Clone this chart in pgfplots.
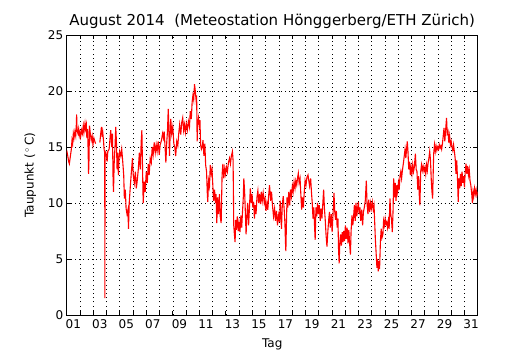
\documentclass[border=0pt]{standalone}
\usepackage{pgfplots}
\pgfplotsset{compat=1.18}
\usepackage{fontspec}
\setmainfont{DejaVu Sans}
\begin{document}
\begin{tikzpicture}
\path[use as bounding box] (-66.7pt,-35pt) rectangle (463.3pt,315pt);
\begin{axis}[
  scale only axis, width=411pt, height=280pt,
  xmin=1, xmax=32, ymin=0, ymax=25,
  font=\fontsize{12}{14}\selectfont,
  /pgf/number format/assume math mode=true,
  axis line style={line width=0.9pt},
  tick align=inside,
  xtick={1.5,3.5,...,31.5},
  xticklabels={01,03,05,07,09,11,13,15,17,19,21,23,25,27,29,31},
  major x tick style={draw=none},
  minor xtick={2,3,...,31},
  minor tick length=4.4pt, major tick length=4.4pt,
  ytick={0,5,...,25},
  xminorgrids=true, ymajorgrids=true,
  grid style={black, line width=0.5pt, dash pattern=on 1pt off 3.2pt},
  minor grid style={black, line width=0.5pt, dash pattern=on 1pt off 3.2pt},
  tick style={black, line width=0.6pt},
  xticklabel style={yshift=-1pt},
  xlabel={Tag}, ylabel={Taupunkt (\,$^\circ$\,C)},
  xlabel style={yshift=-3pt},
  ylabel style={yshift=5pt},
  title={August 2014\ \ (Meteostation Hönggerberg/ETH Zürich)},
  title style={font=\fontsize{15}{17}\selectfont, yshift=-3pt},
  unbounded coords=jump,
]
\addplot[red, line width=1.1pt] coordinates {
(1.00,14.7) (1.08,14.2) (1.15,13.7) (1.20,13.5) (1.28,14.2) (1.35,14.8) (1.40,15.6) (1.45,15.3) (1.50,16.2) (1.55,15.8)
(1.62,16.4) (1.68,16.0) (1.72,16.8) (1.75,17.9) (1.78,16.5) (1.85,16.2) (1.90,16.6) (1.95,16.0) (2.00,16.3)
(2.05,15.9) (2.12,16.5) (2.18,16.2) (2.25,16.9) (2.30,16.3) (2.38,17.1) (2.42,16.6) (2.48,17.0) (2.52,15.8) (2.58,16.6)
(2.62,14.5) (2.65,12.6) (2.68,13.8) (2.72,16.9) (2.78,16.2) (2.85,15.6) (2.92,16.0) (2.98,15.2) (3.05,15.8) (3.12,15.5) (3.18,15.3)
(3.30,nan)
(3.50,15.4) (3.55,16.0) (3.62,16.8) (3.68,15.9) (3.72,16.3) (3.78,15.5) (3.82,14.8) (3.87,14.5) (3.88,1.5) (3.89,14.2)
(3.95,14.5) (4.00,14.2) (4.05,13.7) (4.10,14.6) (4.20,14.8) (4.32,16.5) (4.40,15.0) (4.45,16.2) (4.50,12.0) (4.53,11.0)
(4.58,13.5) (4.65,15.2) (4.70,16.8) (4.75,15.5) (4.80,13.0) (4.85,14.5) (4.90,12.5) (4.95,14.0) (5.00,14.6)
(5.08,14.2) (5.15,14.8) (5.22,13.8) (5.30,12.5) (5.35,10.4) (5.42,11.2) (5.48,9.5) (5.55,9.0) (5.62,9.4) (5.66,7.7)
(5.72,10.1) (5.80,11.5) (5.88,12.8) (5.96,14.0) (6.02,12.5) (6.10,11.8) (6.18,12.8) (6.25,11.3) (6.32,12.0)
(6.40,13.0) (6.48,14.5) (6.55,13.0) (6.62,15.5) (6.67,16.5) (6.72,13.0) (6.77,10.0) (6.85,11.9) (6.92,11.0) (7.00,12.8)
(7.08,11.8) (7.15,13.5) (7.22,12.5) (7.30,14.0) (7.38,13.6) (7.45,15.0) (7.52,14.3) (7.60,15.4) (7.68,14.5) (7.75,15.2)
(7.82,14.6) (7.90,15.5) (7.98,14.3) (8.05,15.2) (8.15,15.6) (8.23,16.2) (8.30,15.8) (8.35,16.4) (8.42,15.0) (8.48,13.6)
(8.55,15.5) (8.60,16.4) (8.66,18.4) (8.70,17.0) (8.75,14.2) (8.80,16.0) (8.85,17.5) (8.92,16.2) (9.00,16.8)
(9.08,15.3) (9.15,15.0) (9.22,14.2) (9.30,15.5) (9.38,15.1) (9.45,16.2) (9.52,17.0) (9.60,16.1) (9.68,17.2) (9.75,17.6)
(9.82,16.5) (9.88,17.0) (9.95,16.3) (10.02,17.1) (10.10,16.5) (10.18,17.3) (10.26,16.8) (10.32,18.2) (10.40,17.5)
(10.46,19.0) (10.52,19.6) (10.58,19.2) (10.64,20.6) (10.70,20.0) (10.76,19.2) (10.80,19.6) (10.84,15.5) (10.88,17.0)
(10.94,17.6) (11.00,17.0) (11.05,17.4) (11.10,15.2) (11.16,14.8) (11.22,15.0) (11.28,15.6) (11.35,14.2) (11.42,15.3)
(11.48,13.4) (11.55,12.8) (11.60,11.0) (11.64,10.1) (11.70,12.0) (11.77,11.5) (11.83,13.4) (11.90,12.6) (11.96,13.0)
(12.02,11.6) (12.08,10.2) (12.15,11.2) (12.22,10.0) (12.27,10.8) (12.32,8.2) (12.38,10.5) (12.45,9.0) (12.52,10.8)
(12.58,8.8) (12.65,8.2) (12.72,12.5) (12.78,13.5) (12.85,12.2) (12.92,13.1) (12.98,12.6) (13.05,13.2) (13.12,12.8)
(13.20,13.6) (13.28,14.0) (13.35,13.5) (13.42,14.2) (13.50,14.6) (13.55,13.8) (13.60,8.0) (13.65,7.2) (13.70,6.5)
(13.75,8.5) (13.80,7.6) (13.87,8.8) (13.94,7.5) (14.00,8.2) (14.07,7.4) (14.14,8.9) (14.20,7.8) (14.26,9.2) (14.32,10.5)
(14.36,12.2) (14.42,11.0) (14.48,9.0) (14.53,7.2) (14.58,8.6) (14.65,10.0) (14.72,8.0) (14.78,9.5) (14.85,11.3)
(14.92,10.0) (14.98,10.8) (15.04,9.6) (15.10,10.1) (15.16,8.6) (15.22,9.8) (15.28,9.0) (15.35,10.5) (15.42,11.1)
(15.48,10.0) (15.55,10.8) (15.62,9.9) (15.68,11.0) (15.75,10.2) (15.82,10.9) (15.90,10.0) (15.96,10.4) (16.03,9.3)
(16.10,10.0) (16.17,9.4) (16.22,10.5) (16.30,11.6) (16.38,10.2) (16.45,11.0) (16.52,9.8) (16.60,8.8) (16.68,9.5)
(16.75,8.4) (16.82,9.3) (16.90,8.0) (16.97,8.9) (17.05,8.3) (17.10,10.2) (17.15,9.0) (17.20,7.7) (17.26,9.8) (17.33,10.6)
(17.40,9.5) (17.46,8.2) (17.50,6.5) (17.53,5.7) (17.57,8.0) (17.62,10.5) (17.68,9.6) (17.75,11.0) (17.82,9.8)
(17.88,11.2) (17.95,10.6) (18.02,11.5) (18.08,11.0) (18.15,11.9) (18.22,11.3) (18.28,12.0) (18.35,11.6) (18.42,12.3)
(18.47,12.65) (18.53,11.8) (18.60,12.2) (18.66,10.8) (18.72,9.4) (18.78,10.5) (18.85,9.6) (18.92,11.0) (18.98,12.0)
(19.05,11.6) (19.12,12.3) (19.20,12.5) (19.26,12.0) (19.32,11.5) (19.40,12.2) (19.46,11.0) (19.52,10.0) (19.58,8.6)
(19.64,9.6) (19.70,7.8) (19.74,6.7) (19.80,9.6) (19.86,8.8) (19.92,10.0) (19.98,9.0) (20.05,9.8) (20.12,8.4) (20.18,9.5)
(20.25,8.6) (20.32,10.0) (20.38,11.2) (20.44,9.5) (20.50,8.5) (20.56,7.2) (20.63,6.1) (20.70,7.5) (20.76,8.5)
(20.82,9.2) (20.88,7.8) (20.95,9.0) (21.02,7.4) (21.08,8.8) (21.16,10.9) (21.22,9.2) (21.28,8.5) (21.34,9.3) (21.40,7.8)
(21.46,8.6) (21.50,6.0) (21.55,4.6) (21.60,6.5) (21.66,7.2) (21.72,6.2) (21.78,7.4) (21.84,6.5) (21.90,7.5) (21.96,6.6)
(22.02,8.0) (22.08,6.8) (22.15,7.8) (22.22,6.4) (22.28,7.6) (22.35,6.2) (22.40,5.4) (22.45,7.5) (22.52,8.9) (22.58,8.0)
(22.64,8.8) (22.70,9.8) (22.76,8.4) (22.82,10.0) (22.88,8.8) (22.95,9.6) (23.00,10.1) (23.06,9.0) (23.12,9.6) (23.18,8.4)
(23.25,9.4) (23.32,8.0) (23.38,9.2) (23.45,9.6) (23.52,10.2) (23.60,12.0) (23.65,10.0) (23.72,9.0) (23.78,10.3)
(23.85,9.2) (23.92,10.0) (23.98,9.5) (24.05,10.1) (24.12,9.4) (24.18,9.8) (24.22,8.6) (24.28,6.8) (24.34,5.5) (24.40,4.2)
(24.45,5.0) (24.50,3.9) (24.55,4.8) (24.60,4.1) (24.66,6.5) (24.72,7.7) (24.78,6.9) (24.85,7.2) (24.90,8.4) (24.96,8.0)
(25.02,8.6) (25.08,8.1) (25.14,8.3) (25.20,7.8) (25.26,8.4) (25.32,7.7) (25.38,10.4) (25.44,9.0) (25.50,8.5) (25.56,7.4)
(25.62,9.5) (25.66,12.2) (25.72,10.5) (25.78,11.8) (25.84,10.2) (25.90,11.6) (25.96,11.0) (26.02,11.8) (26.08,11.2)
(26.14,12.4) (26.20,12.8) (26.26,12.2) (26.32,12.9) (26.40,13.6) (26.46,14.2) (26.52,14.8) (26.58,14.0) (26.64,14.9)
(26.69,15.5) (26.74,14.6) (26.80,13.0) (26.86,13.7) (26.92,12.5) (26.98,13.2) (27.04,12.6) (27.10,13.4) (27.16,12.8)
(27.22,13.2) (27.30,14.4) (27.36,13.0) (27.42,12.8) (27.48,11.2) (27.54,12.4) (27.60,10.5) (27.64,9.8) (27.70,12.8)
(27.76,13.4) (27.82,12.9) (27.88,13.3) (27.95,12.8) (28.02,13.2) (28.08,12.6) (28.14,13.4) (28.20,12.9) (28.26,13.6)
(28.32,14.0) (28.38,14.6) (28.44,13.8) (28.50,12.0) (28.55,11.0) (28.60,10.4) (28.64,12.5) (28.68,14.4) (28.74,15.2)
(28.80,14.6) (28.86,15.1) (28.92,14.7) (28.98,15.0) (29.04,14.8) (29.10,15.2) (29.16,14.9) (29.22,15.1) (29.28,14.8)
(29.34,15.3) (29.40,16.0) (29.46,16.7) (29.52,15.5) (29.58,16.5) (29.65,17.6) (29.70,16.2) (29.76,16.4) (29.82,15.4)
(29.88,16.0) (29.94,15.2) (30.00,15.5) (30.06,15.0) (30.12,14.7) (30.18,15.2) (30.24,14.6) (30.30,14.0) (30.36,12.6)
(30.42,13.8) (30.48,12.0) (30.53,10.1) (30.58,12.2) (30.64,11.3) (30.70,12.6) (30.76,11.5) (30.82,12.8) (30.88,11.8)
(30.94,12.4) (31.00,11.4) (31.06,12.8) (31.12,13.5) (31.18,12.6) (31.24,13.3) (31.30,12.5) (31.36,13.0) (31.42,12.0)
(31.48,11.6) (31.55,10.8) (31.60,10.0) (31.65,11.0) (31.70,10.6) (31.76,11.3) (31.82,10.8) (31.88,11.2) (31.94,10.7)
(32.00,11.0)
};
\end{axis}
\end{tikzpicture}
\end{document}
